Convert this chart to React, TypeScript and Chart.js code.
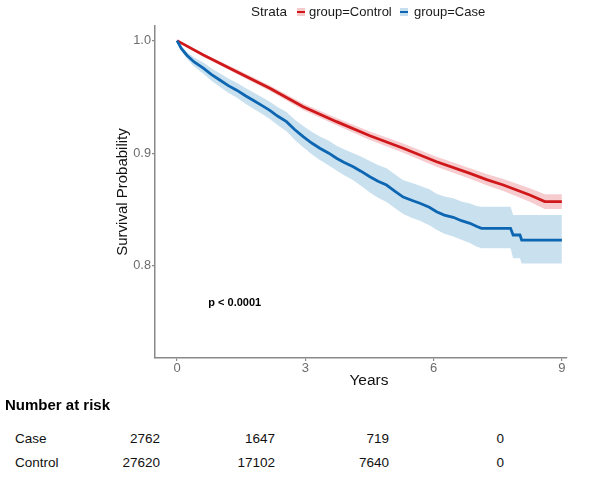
import React, { useEffect, useRef } from 'react';
import { Chart, registerables } from 'chart.js';

Chart.register(...registerables);

const FONT = "'Liberation Sans', Arial, Helvetica, sans-serif";

// ---- data ----
const xTicks = [0, 3, 6, 9];
const yTicks = [0.8, 0.9, 1.0];

const controlTime = [0, 0.615, 1.395, 2.17, 2.95, 3.73, 4.51, 5.29, 6.07, 6.85, 7.24, 7.63, 8.25, 8.6, 9.0];
const controlSurv = [1.0, 0.9873, 0.9724, 0.9577, 0.9413, 0.928, 0.9155, 0.9044, 0.8924, 0.882, 0.8765, 0.8717, 0.8628, 0.857, 0.857];
const controlUpper = [1.0, 0.9885, 0.9745, 0.9602, 0.9442, 0.9313, 0.9193, 0.9085, 0.8968, 0.8867, 0.8815, 0.877, 0.8688, 0.8635, 0.8635];
const controlLower = [1.0, 0.9861, 0.9703, 0.9552, 0.9384, 0.9247, 0.9117, 0.9003, 0.888, 0.8773, 0.8715, 0.8664, 0.8568, 0.8505, 0.8505];

const caseTime = [0, 0.1, 0.23, 0.4, 0.615, 0.8, 1.0, 1.2, 1.395, 1.6, 1.78, 2.0, 2.17, 2.35, 2.56, 2.75, 2.95, 3.15, 3.34, 3.55, 3.73, 3.9, 4.12, 4.3, 4.51, 4.7, 4.9, 5.1, 5.29, 5.5, 5.68, 5.9, 6.07, 6.25, 6.46, 6.65, 6.85, 7.0, 7.12, 7.8, 7.86, 8.02, 8.06, 9.0];
const caseSurv = [1.0, 0.993, 0.987, 0.981, 0.9755, 0.97, 0.965, 0.96, 0.956, 0.951, 0.947, 0.942, 0.938, 0.933, 0.928, 0.921, 0.9147, 0.909, 0.9044, 0.9, 0.8955, 0.892, 0.888, 0.884, 0.879, 0.875, 0.8717, 0.866, 0.861, 0.858, 0.8555, 0.852, 0.848, 0.845, 0.843, 0.84, 0.8377, 0.835, 0.8332, 0.8332, 0.8273, 0.8273, 0.8228, 0.8228];
const caseUpper = [1.0, 0.995, 0.99, 0.985, 0.9805, 0.9755, 0.971, 0.9663, 0.9626, 0.958, 0.9542, 0.9494, 0.9456, 0.941, 0.9365, 0.93, 0.9242, 0.919, 0.9149, 0.911, 0.9065, 0.9035, 0.9, 0.897, 0.893, 0.8895, 0.8867, 0.881, 0.876, 0.8735, 0.871, 0.868, 0.864, 0.8615, 0.86, 0.857, 0.8552, 0.853, 0.8524, 0.8524, 0.845, 0.845, 0.845, 0.845];
const caseLower = [1.0, 0.991, 0.984, 0.977, 0.9705, 0.9645, 0.959, 0.9537, 0.9494, 0.944, 0.9398, 0.9346, 0.9304, 0.925, 0.9195, 0.912, 0.9052, 0.899, 0.8939, 0.889, 0.8845, 0.8805, 0.876, 0.871, 0.865, 0.8605, 0.8567, 0.851, 0.846, 0.8425, 0.84, 0.836, 0.832, 0.8285, 0.826, 0.823, 0.8202, 0.817, 0.8155, 0.8155, 0.8066, 0.8066, 0.802, 0.802];

const strata = ['group=Control', 'group=Case'];
const riskRows = ['Case', 'Control'];
const riskCase = [2762, 1647, 719, 0];
const riskControl = [27620, 17102, 7640, 0];

const pValueText = 'p < 0.0001';
const pValuePos = [1.35, 0.767];

// ---- styles ----
const RED = '#D0181B';
const BLUE = '#0D66B2';
const RED_BAND = 'rgba(232, 120, 128, 0.38)';
const BLUE_BAND = 'rgba(120, 178, 216, 0.40)';
const AXIS_GREY = '#8a8a8a';
const TICK_GREY = '#6c6c6c';
const riskColRight = [160, 275, 389, 504];

function pts(xs: number[], ys: number[]) {
  return xs.map((x, i) => ({ x, y: ys[i] }));
}

const pValuePlugin = {
  id: 'pvalueText',
  afterDatasetsDraw(chart: any) {
    const { ctx, scales } = chart;
    const x = scales.x.getPixelForValue(pValuePos[0]);
    const y = scales.y.getPixelForValue(pValuePos[1]);
    ctx.save();
    ctx.font = `bold 11px ${FONT}`;
    ctx.fillStyle = '#000';
    ctx.textAlign = 'center';
    ctx.textBaseline = 'middle';
    ctx.fillText(pValueText, x, y);
    ctx.restore();
  },
};

function KMChart() {
  const ref = useRef<HTMLCanvasElement | null>(null);
  useEffect(() => {
    if (!ref.current) return;
    const band = { pointRadius: 0, borderWidth: 0, tension: 0 };
    const chart = new Chart(ref.current, {
      type: 'line',
      data: {
        datasets: [
          { ...band, label: 'caseUpper', data: pts(caseTime, caseUpper), fill: '+1', backgroundColor: BLUE_BAND, borderColor: 'transparent', order: 4 },
          { ...band, label: 'caseLower', data: pts(caseTime, caseLower), fill: false, borderColor: 'transparent', order: 4 },
          { ...band, label: 'controlUpper', data: pts(controlTime, controlUpper), fill: '+1', backgroundColor: RED_BAND, borderColor: 'transparent', order: 3 },
          { ...band, label: 'controlLower', data: pts(controlTime, controlLower), fill: false, borderColor: 'transparent', order: 3 },
          { label: strata[0], data: pts(controlTime, controlSurv), borderColor: RED, borderWidth: 2.8, pointRadius: 0, tension: 0, fill: false, order: 1 },
          { label: strata[1], data: pts(caseTime, caseSurv), borderColor: BLUE, borderWidth: 2.8, pointRadius: 0, tension: 0, fill: false, order: 0 },
        ],
      },
      options: {
        animation: false,
        responsive: false,
        maintainAspectRatio: false,
        events: [],
        layout: { padding: { left: 114, right: 23, top: 26, bottom: 0 } },
        plugins: { legend: { display: false }, tooltip: { enabled: false } },
        scales: {
          x: {
            type: 'linear',
            min: -0.515,
            max: 9.12,
            afterBuildTicks: (s: any) => {
              s.ticks = xTicks.map((v) => ({ value: v }));
            },
            afterFit: (s: any) => {
              s.height = 42;
            },
            ticks: { font: { size: 13, family: FONT }, color: TICK_GREY, padding: 0, maxRotation: 0, autoSkip: false },
            grid: { display: true, drawOnChartArea: false, drawTicks: true, tickLength: 3, color: AXIS_GREY, lineWidth: 1.2 },
            border: { display: true, color: AXIS_GREY, width: 1.5 },
            title: { display: false },
          },
          y: {
            type: 'linear',
            min: 0.718,
            max: 1.013,
            afterBuildTicks: (s: any) => {
              s.ticks = yTicks.map((v) => ({ value: v }));
            },
            afterFit: (s: any) => {
              s.width = 41;
            },
            ticks: {
              font: { size: 12.75, family: FONT },
              color: TICK_GREY,
              padding: 1,
              autoSkip: false,
              callback: (v: any) => Number(v).toFixed(1),
            },
            grid: { display: true, drawOnChartArea: false, drawTicks: true, tickLength: 3, color: AXIS_GREY, lineWidth: 1.2 },
            border: { display: true, color: AXIS_GREY, width: 1.5 },
            title: {
              display: true,
              text: 'Survival Probability',
              font: { size: 15, family: FONT },
              color: '#111',
              padding: { top: 0, bottom: 0 },
            },
          },
        },
      },
      plugins: [pValuePlugin],
    } as any);
    return () => chart.destroy();
  }, []);
  return <canvas ref={ref} width={590} height={400} style={{ position: 'absolute', left: 0, top: 0, width: 590, height: 400 }} />;
}

function LegendKey({ left, fill, line }: { left: number; fill: string; line: string }) {
  return (
    <div style={{ position: 'absolute', left, top: 8, width: 8, height: 8, background: fill }}>
      <div style={{ position: 'absolute', left: 0, top: 3, width: 8, height: 2, background: line }} />
    </div>
  );
}

export default function App() {
  const txt = (extra: React.CSSProperties): React.CSSProperties => ({
    position: 'absolute',
    fontFamily: FONT,
    whiteSpace: 'nowrap',
    ...extra,
  });
  return (
    <div style={{ position: 'fixed', left: 0, top: 0, width: 590, height: 477, background: '#fff', overflow: 'hidden' }}>
      <KMChart />
      {/* legend */}
      <div style={txt({ left: 251, top: 4, fontSize: 13.5, lineHeight: '16px', color: '#1a1a1a' })}>Strata</div>
      <LegendKey left={297} fill="#F6C9CB" line={RED} />
      <div style={txt({ left: 309, top: 4, fontSize: 13, lineHeight: '16px', color: '#1a1a1a' })}>{strata[0]}</div>
      <LegendKey left={400} fill="#C5DFEF" line={BLUE} />
      <div style={txt({ left: 414, top: 4, fontSize: 13, lineHeight: '16px', color: '#1a1a1a' })}>{strata[1]}</div>
      {/* x axis title */}
      <div style={txt({ left: 329, width: 80, textAlign: 'center', top: 371, fontSize: 15.5, lineHeight: '18px', color: '#111' })}>Years</div>
      {/* risk table */}
      <div style={txt({ left: 5, top: 396, fontSize: 15, fontWeight: 'bold', lineHeight: '18px', color: '#000' })}>Number at risk</div>
      <div style={txt({ left: 15, top: 431, fontSize: 13.5, lineHeight: '16px', color: '#111' })}>{riskRows[0]}</div>
      <div style={txt({ left: 15, top: 455, fontSize: 13.5, lineHeight: '16px', color: '#111' })}>{riskRows[1]}</div>
      {riskCase.map((v, i) => (
        <div key={'c' + i} style={txt({ left: riskColRight[i] - 70, width: 70, textAlign: 'right', top: 431, fontSize: 13.5, lineHeight: '16px', color: '#111' })}>{v}</div>
      ))}
      {riskControl.map((v, i) => (
        <div key={'k' + i} style={txt({ left: riskColRight[i] - 70, width: 70, textAlign: 'right', top: 455, fontSize: 13.5, lineHeight: '16px', color: '#111' })}>{v}</div>
      ))}
    </div>
  );
}
